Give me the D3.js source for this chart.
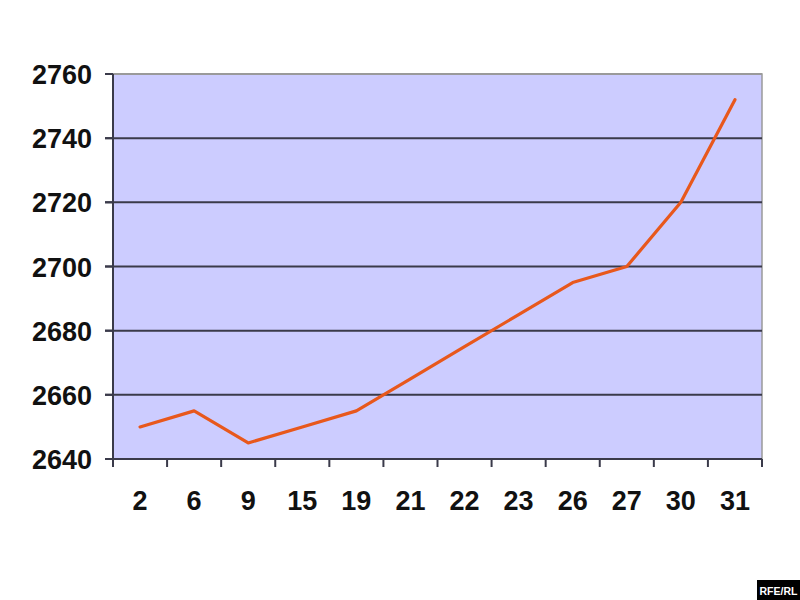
<!DOCTYPE html>
<html><head><meta charset="utf-8">
<script src="https://cdn.jsdelivr.net/npm/d3@7"></script>
<style>body{margin:0;background:#fff}</style>
</head><body>
<svg id="c" width="800" height="600"></svg>
<script>
const categories = ["2","6","9","15","19","21","22","23","26","27","30","31"];
const values = [2650,2655,2645,2650,2655,2665,2675,2685,2695,2700,2720,2752];
const yTicks = [2640,2660,2680,2700,2720,2740,2760];

const svg = d3.select("#c");
const L=113, R=762, T=74, B=459;
const x = d3.scaleBand().domain(categories).range([L,R]);
const y = d3.scaleLinear().domain([2640,2760]).range([B,T]);

svg.append("rect").attr("x",L).attr("y",T).attr("width",R-L).attr("height",B-T)
  .attr("fill","#ccccff").attr("stroke","#9a9a9a").attr("stroke-width",1.5);

svg.append("g").selectAll("line").data(yTicks).join("line")
  .attr("x1",L-8).attr("x2",R).attr("y1",d=>y(d)).attr("y2",d=>y(d))
  .attr("stroke",d=>d===2760?"#9a9a9a":"#3a3a4a").attr("stroke-width",2);
svg.append("g").selectAll("line").data(yTicks).join("line")
  .attr("x1",L-8).attr("x2",L).attr("y1",d=>y(d)).attr("y2",d=>y(d))
  .attr("stroke","#3a3a4a").attr("stroke-width",2);

svg.append("line").attr("x1",L).attr("x2",L).attr("y1",T).attr("y2",B+7)
  .attr("stroke","#3a3a4a").attr("stroke-width",2);
svg.append("line").attr("x1",L-8).attr("x2",R).attr("y1",B).attr("y2",B)
  .attr("stroke","#3a3a4a").attr("stroke-width",2);
const bounds = categories.map(c=>x(c)).concat([R]);
svg.append("g").selectAll("line").data(bounds).join("line")
  .attr("x1",d=>d).attr("x2",d=>d).attr("y1",B).attr("y2",B+8)
  .attr("stroke","#3a3a4a").attr("stroke-width",2);

svg.append("g").selectAll("text").data(yTicks).join("text")
  .attr("x",92).attr("y",d=>y(d)+10).attr("text-anchor","end")
  .attr("font-family","Liberation Sans, Arial, sans-serif").attr("font-weight","bold")
  .attr("font-size",27).attr("fill","#111").text(d=>d);

svg.append("g").selectAll("text").data(categories).join("text")
  .attr("x",d=>x(d)+x.bandwidth()/2).attr("y",510).attr("text-anchor","middle")
  .attr("font-family","Liberation Sans, Arial, sans-serif").attr("font-weight","bold")
  .attr("font-size",27).attr("fill","#111").text(d=>d);

const line = d3.line().x((d,i)=>x(categories[i])+x.bandwidth()/2).y(d=>y(d));
svg.append("path").datum(values).attr("d",line).attr("fill","none")
  .attr("stroke","#e8581c").attr("stroke-width",3.2).attr("stroke-linejoin","round").attr("stroke-linecap","round");

svg.append("rect").attr("x",757).attr("y",580).attr("width",43).attr("height",20).attr("fill","#000");
svg.append("text").attr("x",778.5).attr("y",595).attr("text-anchor","middle")
  .attr("font-family","Liberation Sans, Arial, sans-serif").attr("font-weight","bold")
  .attr("font-size",10.5).attr("fill","#fff").text("RFE/RL");
</script>
</body></html>
